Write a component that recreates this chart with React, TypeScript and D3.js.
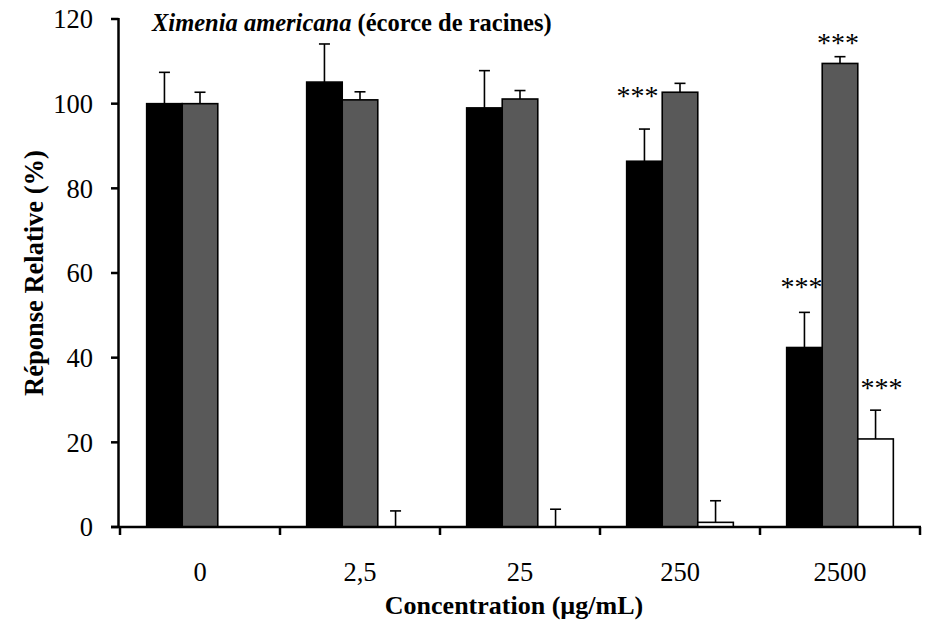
import React from "react";
import * as d3 from "d3";

const categories = ["0", "2,5", "25", "250", "2500"];
const seriesNames = ["noir", "gris", "blanc"];
const blackValues = [100, 105.1, 99.0, 86.4, 42.4];
const blackErrors = [7.4, 9.0, 8.8, 7.6, 8.3];
const grayValues = [100, 100.9, 101.1, 102.7, 109.5];
const grayErrors = [2.7, 1.9, 2.0, 2.1, 1.6];
const whiteValues = [0, 0, 0, 1.1, 20.8];
const whiteErrors = [0, 3.8, 4.2, 5.1, 6.8];
const yTicks = [0, 20, 40, 60, 80, 100, 120];
// significance labels: [category, series, value at which the label sits]
const starCategories = ["250", "2500", "2500", "2500"];
const starSeries = ["noir", "noir", "gris", "blanc"];
const starValues = [102.5, 57.4, 115.0, 33.5];

const seriesValues = [blackValues, grayValues, whiteValues];
const seriesErrors = [blackErrors, grayErrors, whiteErrors];
const fills = ["#000000", "#595959", "#ffffff"];
const starDx = [-7, -3, -2, 6];

const W = 935;
const H = 625;
const X0 = 120;
const X1 = 920;
const Y0 = 527;
const Y1 = 19;
const AXIS_X = 118.5;
const FONT = "'Liberation Serif', 'Times New Roman', serif";

export default function App() {
  const x = d3.scaleBand<string>().domain(categories).range([X0, X1]).padding(0);
  const xs = d3
    .scaleBand<string>()
    .domain(seriesNames)
    .range([0, x.bandwidth()])
    .paddingInner(0)
    .paddingOuter(0.75);
  const y = d3.scaleLinear().domain([0, 120]).range([Y0, Y1]);
  const boundaries = [...categories.map((c) => x(c) as number), X1];

  return (
    <svg
      width={W}
      height={H}
      style={{ position: "absolute", left: 0, top: 0, background: "#fff" }}
      fontFamily={FONT}
    >
      {/* bars */}
      {seriesNames.map((s, si) =>
        categories.map((c, ci) => {
          const v = seriesValues[si][ci];
          const bx = (x(c) as number) + (xs(s) as number);
          const bw = xs.bandwidth();
          return (
            <rect
              key={`b-${si}-${ci}`}
              x={bx}
              y={y(v)}
              width={bw}
              height={Math.max(0, y(0) - y(v))}
              fill={fills[si]}
              stroke="#000"
              strokeWidth={1.6}
            />
          );
        })
      )}
      {/* error bars */}
      {seriesNames.map((s, si) =>
        categories.map((c, ci) => {
          const v = seriesValues[si][ci];
          const e = seriesErrors[si][ci];
          if (!e) return null;
          const cx = (x(c) as number) + (xs(s) as number) + xs.bandwidth() / 2;
          return (
            <g key={`e-${si}-${ci}`} stroke="#000" strokeWidth={1.6}>
              <line x1={cx} x2={cx} y1={y(v)} y2={y(v + e)} />
              <line x1={cx - 5.5} x2={cx + 5.5} y1={y(v + e)} y2={y(v + e)} />
            </g>
          );
        })
      )}
      {/* stars */}
      {starCategories.map((c, i) => {
        const cx = (x(c) as number) + (xs(starSeries[i]) as number) + xs.bandwidth() / 2 + starDx[i];
        return (
          <text
            key={`s-${i}`}
            x={cx}
            y={y(starValues[i]) + 12}
            textAnchor="middle"
            fontSize={28}
            fill="#000"
          >
            ***
          </text>
        );
      })}
      {/* y axis */}
      <line x1={AXIS_X} x2={AXIS_X} y1={y(120) - 1} y2={Y0 + 1} stroke="#000" strokeWidth={2.5} />
      {yTicks.map((t) => (
        <g key={`yt-${t}`}>
          <line x1={AXIS_X - 7.5} x2={AXIS_X} y1={y(t)} y2={y(t)} stroke="#000" strokeWidth={2.5} />
          <text x={93} y={y(t)} dy="0.35em" textAnchor="end" fontSize={26.5} fill="#000">
            {t}
          </text>
        </g>
      ))}
      {/* x axis */}
      <line x1={AXIS_X - 7.5} x2={X1 + 1} y1={Y0} y2={Y0} stroke="#000" strokeWidth={2.5} />
      {boundaries.map((bx, i) => (
        <line key={`xt-${i}`} x1={bx} x2={bx} y1={Y0} y2={Y0 + 8} stroke="#000" strokeWidth={2.5} />
      ))}
      {categories.map((c) => (
        <text
          key={`xl-${c}`}
          x={(x(c) as number) + x.bandwidth() / 2}
          y={581}
          textAnchor="middle"
          fontSize={26.5}
          fill="#000"
        >
          {c}
        </text>
      ))}
      {/* axis titles */}
      <text x={514} y={614} textAnchor="middle" fontSize={26} fontWeight="bold" fill="#000">
        Concentration (µg/mL)
      </text>
      <text
        transform="translate(43,273) rotate(-90)"
        textAnchor="middle"
        fontSize={26.5}
        fontWeight="bold"
        fill="#000"
      >
        Réponse Relative (%)
      </text>
      {/* title */}
      <text x={152} y={31} fontSize={24.5} fontWeight="bold" fill="#000">
        <tspan fontStyle="italic">Ximenia americana</tspan>
        <tspan> (écorce de racines)</tspan>
      </text>
    </svg>
  );
}
